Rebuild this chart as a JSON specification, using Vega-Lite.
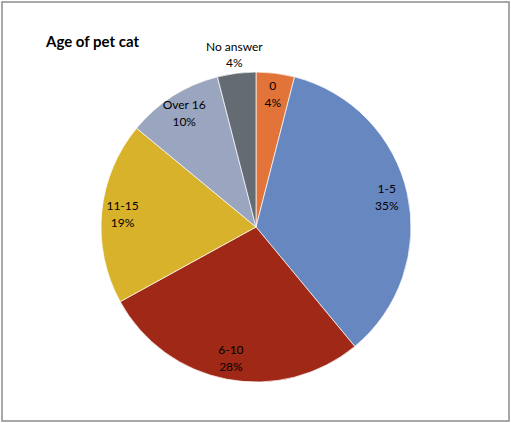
{
  "$schema": "https://vega.github.io/schema/vega-lite/v6.json",
  "width": 511,
  "height": 423,
  "autosize": {"type": "fit", "contains": "padding"},
  "padding": 1,
  "background": "white",
  "config": {"view": {"stroke": "#8c8c8c", "strokeWidth": 1.5}, "font": "Lato"},
  "title": {"text": "Age of pet cat", "orient": "none", "anchor": "start", "dx": 44, "dy": 33, "fontSize": 15, "fontWeight": "bold", "font": "Lato", "color": "#000000"},
  "datasets": {"cats": [
    {"age": "0", "share": 0.04},
    {"age": "1-5", "share": 0.35},
    {"age": "6-10", "share": 0.28},
    {"age": "11-15", "share": 0.19},
    {"age": "Over 16", "share": 0.10},
    {"age": "No answer", "share": 0.04}
  ], "frame": [{}]},
  "layer": [
    {
      "data": {"name": "frame"},
      "mark": {"type": "rect", "fill": null, "fillOpacity": 0, "stroke": "#8c8c8c", "strokeWidth": 1.5},
      "encoding": {}
    },
    {
      "data": {"name": "cats"},
      "transform": [{"window": [{"op": "row_number", "as": "idx"}]}],
      "encoding": {
        "theta": {"field": "share", "type": "quantitative", "stack": true},
        "order": {"field": "idx", "type": "quantitative"}
      },
      "layer": [
        {
          "mark": {"type": "arc", "outerRadius": 155, "yOffset": 15.5, "xOffset": 0.5, "stroke": "#ffffff", "strokeWidth": 0.7},
          "encoding": {
            "color": {"field": "age", "type": "nominal", "legend": null,
              "scale": {"domain": ["0", "1-5", "6-10", "11-15", "Over 16", "No answer"],
                        "range": ["#E2743A", "#6787C1", "#9F2816", "#D9B22B", "#9AA5BF", "#656B72"]}}
          }
        },
        {
          "mark": {"type": "text", "radius": 134, "yOffset": 15.5, "xOffset": 0.5, "dy": -8.5, "fontSize": 12, "color": "#000000"},
          "encoding": {
            "text": {"field": "age", "type": "nominal"},
            "opacity": {"condition": {"test": "datum.age == 'No answer'", "value": 0}, "value": 1}
          }
        },
        {
          "mark": {"type": "text", "radius": 134, "yOffset": 15.5, "xOffset": 0.5, "dy": 8.5, "fontSize": 12, "color": "#000000"},
          "encoding": {
            "text": {"field": "share", "type": "quantitative", "format": ".0%"},
            "opacity": {"condition": {"test": "datum.age == 'No answer'", "value": 0}, "value": 1}
          }
        },
        {
          "mark": {"type": "text", "radius": 173, "yOffset": 15.5, "xOffset": 0.5, "dy": -8, "fontSize": 12, "color": "#000000"},
          "encoding": {
            "text": {"field": "age", "type": "nominal"},
            "opacity": {"condition": {"test": "datum.age == 'No answer'", "value": 1}, "value": 0}
          }
        },
        {
          "mark": {"type": "text", "radius": 173, "yOffset": 15.5, "xOffset": 0.5, "dy": 8, "fontSize": 12, "color": "#000000"},
          "encoding": {
            "text": {"field": "share", "type": "quantitative", "format": ".0%"},
            "opacity": {"condition": {"test": "datum.age == 'No answer'", "value": 1}, "value": 0}
          }
        }
      ]
    }
  ]
}
